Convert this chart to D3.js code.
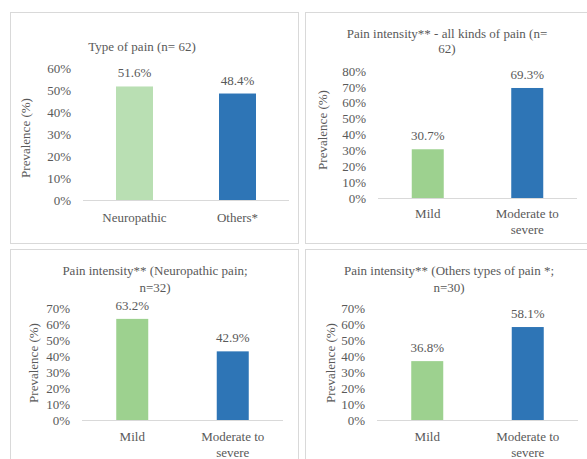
<!DOCTYPE html>
<html><head><meta charset="utf-8">
<script src="https://cdn.jsdelivr.net/npm/d3@7"></script>
<style>body{margin:0;background:#fff}svg{display:block}svg text{font-family:'Liberation Serif','DejaVu Serif','Noto Serif',Tinos,serif !important;fill:#595959}</style>
</head><body><svg id="c" width="587" height="459"></svg>
<script>
const typeCategories = ["Neuropathic", "Others*"];
const typeValues = [51.6, 48.4];
const intensityCategories = ["Mild", "Moderate to|severe"];
const allPainValues = [30.7, 69.3];
const neuropathicValues = [63.2, 42.9];
const otherPainValues = [36.8, 58.1];
const titles = ["Type of pain (n= 62)", "Pain intensity** - all kinds of pain (n=|62)", "Pain intensity** (Neuropathic pain;|n=32)", "Pain intensity** (Others types of pain *;|n=30)"];
const yMaxes = [60, 80, 70, 70];
const yTitle = "Prevalence (%)";

const svg = d3.select("#c");
const FONT = "'Liberation Serif','DejaVu Serif',serif";
const panels = [
  {box:[10,12,288,231], title:titles[0], cats:typeCategories, vals:typeValues, colors:["#b9dfb3","#2e75b6"], ymax:yMaxes[0],
   x0:83, x1:289, y0:200, y1:68, tx:142, ty:[46], ytx:25, yty:138, labY:217, bw:37},
  {box:[305,12,290,231], title:titles[1], cats:intensityCategories, vals:allPainValues, colors:["#9dd18f","#2e75b6"], ymax:yMaxes[1],
   x0:378, x1:577, y0:198, y1:71, tx:447, ty:[33,48], ytx:322, yty:130, labY:213, bw:32},
  {box:[10,249,288,220], title:titles[2], cats:intensityCategories, vals:neuropathicValues, colors:["#9dd18f","#2e75b6"], ymax:yMaxes[2],
   x0:82, x1:283, y0:420, y1:308, tx:155, ty:[270,287], ytx:33, yty:363, labY:436, bw:32},
  {box:[305,249,290,220], title:titles[3], cats:intensityCategories, vals:otherPainValues, colors:["#9dd18f","#2e75b6"], ymax:yMaxes[3],
   x0:377, x1:578, y0:420, y1:308, tx:449, ty:[270,287], ytx:330, yty:363, labY:436, bw:32}
];

panels.forEach(p => {
  const g = svg.append("g").attr("font-family",FONT);
  g.append("rect").attr("x",p.box[0]+0.5).attr("y",p.box[1]+0.5).attr("width",p.box[2]).attr("height",p.box[3])
    .attr("fill","#fff").attr("stroke","#d9d9d9").attr("stroke-width",1);
  const x = d3.scaleBand().domain(p.cats).range([p.x0,p.x1]);
  const y = d3.scaleLinear().domain([0,p.ymax]).range([p.y0,p.y1]);
  const yAxis = d3.axisLeft(y).tickValues(d3.range(0,p.ymax+1,10)).tickFormat(d=>d+"%").tickSize(0).tickPadding(0);
  const ya = g.append("g").attr("transform",`translate(${p.x0-12},0)`).call(yAxis).attr("font-family",FONT);
  ya.select(".domain").remove();
  ya.selectAll("text").attr("font-size","13px").attr("fill","#595959");
  g.selectAll("rect.bar").data(p.vals).enter().append("rect").attr("class","bar")
    .attr("x",(d,i)=>x(p.cats[i])+x.bandwidth()/2-p.bw/2).attr("width",p.bw)
    .attr("y",d=>y(d)).attr("height",d=>p.y0-y(d)).attr("fill",(d,i)=>p.colors[i]);
  g.append("line").attr("x1",p.x0).attr("x2",p.x1).attr("y1",p.y0+0.5).attr("y2",p.y0+0.5).attr("stroke","#d9d9d9");
  g.selectAll("text.val").data(p.vals).enter().append("text").attr("class","val")
    .attr("x",(d,i)=>x(p.cats[i])+x.bandwidth()/2).attr("y",d=>y(d)-9)
    .attr("text-anchor","middle").attr("font-size","13px").text(d=>d.toFixed(1)+"%");
  p.cats.forEach(c => {
    c.split("|").forEach((line,k)=>{
      g.append("text").attr("x",x(c)+x.bandwidth()/2).attr("y",p.labY+k*16).attr("dy","0.35em")
        .attr("text-anchor","middle").attr("font-size","13px").text(line);
    });
  });
  p.title.split("|").forEach((line,k)=>{
    g.append("text").attr("x",p.tx).attr("y",p.ty[k]).attr("dy","0.35em").attr("text-anchor","middle")
      .attr("font-size","13px").text(line);
  });
  g.append("text").attr("transform",`translate(${p.ytx},${p.yty}) rotate(-90)`).attr("dy","0.35em")
    .attr("text-anchor","middle").attr("font-size","13px").text(yTitle);
});
</script></body></html>
